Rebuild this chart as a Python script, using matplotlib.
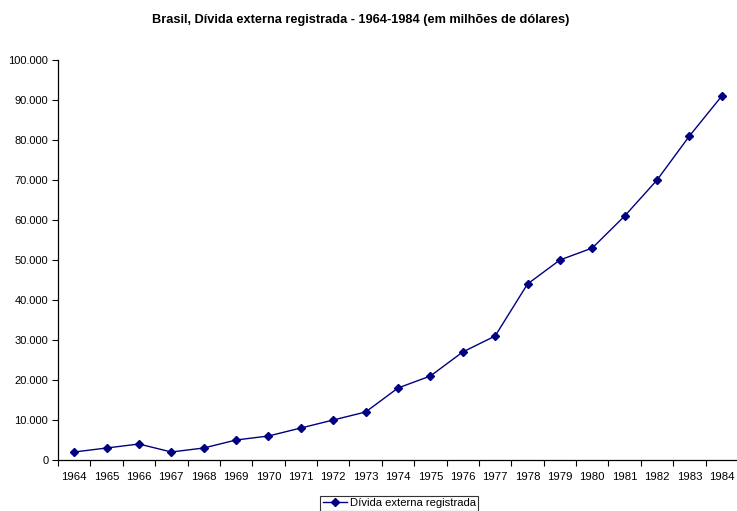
import matplotlib
matplotlib.use("Agg")
import matplotlib.pyplot as plt
from matplotlib.ticker import FuncFormatter, FixedLocator

plt.rcParams['font.family'] = ['Liberation Sans', 'DejaVu Sans']

years = [str(y) for y in range(1964, 1985)]
divida = [2000, 3000, 4000, 2000, 3000, 5000, 6000, 8000, 10000, 12000,
          18000, 21000, 27000, 31000, 44000, 50000, 53000, 61000, 70000,
          81000, 91000]
y_ticks = list(range(0, 100001, 10000))

fig = plt.figure(figsize=(7.37, 5.11), dpi=100)
ax = fig.add_axes([58 / 737, 1 - 460 / 511, 680 / 737, 400 / 511])

x = list(range(len(years)))
ax.plot(x, divida, color='#000080', linewidth=1.0, marker='D', markersize=4,
        label='Dívida externa registrada')

ax.set_xlim(-0.5, len(years) - 0.5)
ax.set_ylim(0, 100000)
ax.set_yticks(y_ticks)
ax.yaxis.set_major_formatter(FuncFormatter(lambda v, p: f"{int(v):,}".replace(",", ".")))

ax.set_xticks(x)
ax.set_xticklabels(years)
ax.xaxis.set_minor_locator(FixedLocator([i - 0.5 for i in range(len(years) + 1)]))
ax.tick_params(axis='x', which='major', length=0, pad=8.5, labelsize=8.2)
ax.tick_params(axis='x', which='minor', length=4, width=0.8, direction='out')
ax.tick_params(axis='y', length=4, width=0.8, labelsize=8, pad=3)

for side in ('top', 'right'):
    ax.spines[side].set_visible(False)
for side in ('left', 'bottom'):
    ax.spines[side].set_linewidth(0.9)
    ax.spines[side].set_color('black')

fig.text(361 / 737, 1 - 20 / 511, 'Brasil, Dívida externa registrada - 1964-1984 (em milhões de dólares)',
         ha='center', va='center', fontsize=9.2, fontweight='bold')

leg = ax.legend(loc='upper center', bbox_to_anchor=(399 / 737, 1 - 496 / 511),
                bbox_transform=fig.transFigure, fontsize=8.1, frameon=True,
                fancybox=False, edgecolor='black', handlelength=2.2,
                borderpad=0.2, handletextpad=0.2, borderaxespad=0)
leg.get_frame().set_linewidth(0.8)

fig.savefig('out.png', dpi=100)
